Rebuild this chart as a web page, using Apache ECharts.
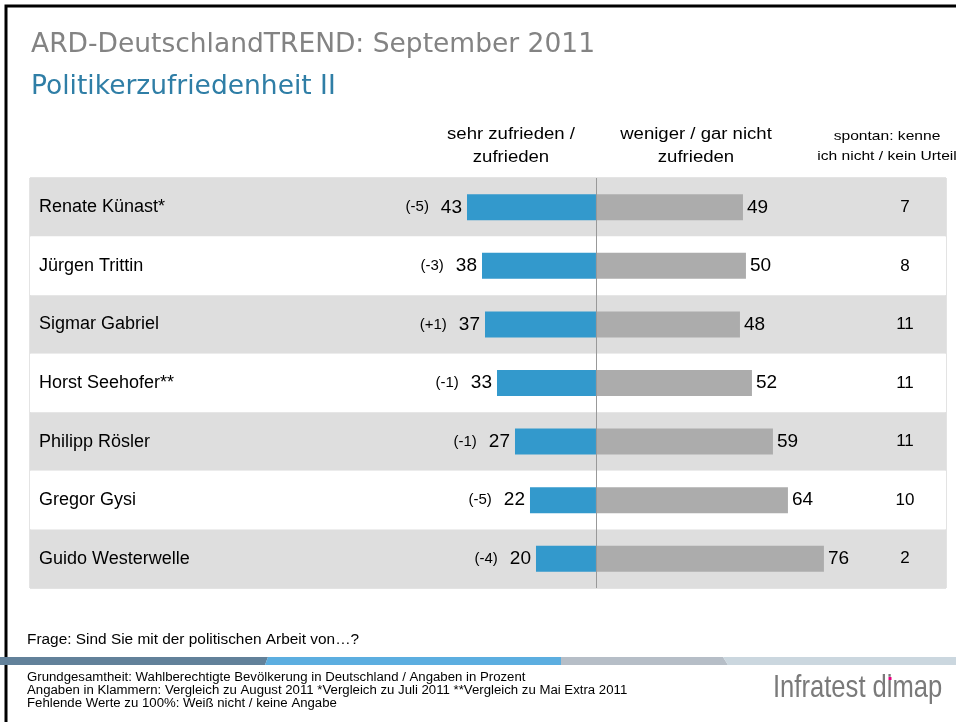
<!DOCTYPE html>
<html>
<head>
<meta charset="utf-8">
<script src="https://cdn.jsdelivr.net/npm/echarts@6/dist/echarts.min.js"></script>
<style>
html, body { margin: 0; padding: 0; background: #fff; }
#chart { width: 956px; height: 722px; }
</style>
</head>
<body>
<div id="chart"></div>
<script>
var names = ['Renate Künast*', 'Jürgen Trittin', 'Sigmar Gabriel', 'Horst Seehofer**', 'Philipp Rösler', 'Gregor Gysi', 'Guido Westerwelle'];
var satisfied = [43, 38, 37, 33, 27, 22, 20];
var change = ['-5', '-3', '+1', '-1', '-1', '-5', '-4'];
var dissatisfied = [49, 50, 48, 52, 59, 64, 76];
var unknown = [7, 8, 11, 11, 11, 10, 2];

var FONT = '"Liberation Sans", Arial, sans-serif';

var myChart = echarts.init(document.getElementById('chart'));

// header text, slightly stretched like in the slide
function head(txt, x, y, size, lh, sx) {
    return {
        type: 'text', x: x, y: y, scaleX: sx, silent: true,
        style: { text: txt, font: size + 'px ' + FONT, lineHeight: lh, fill: '#000', align: 'center', verticalAlign: 'top' }
    };
}

var option = {
    animation: false,
    backgroundColor: '#fff',
    textStyle: { fontFamily: FONT },
    title: [{
        text: 'ARD-DeutschlandTREND: September 2011',
        left: 26, top: 27,
        textStyle: { fontFamily: '"DejaVu Sans", sans-serif', fontWeight: 'normal', fontSize: 26.5, color: '#838383' }
    }, {
        text: 'Politikerzufriedenheit II',
        left: 26, top: 69,
        textStyle: { fontFamily: '"DejaVu Sans", sans-serif', fontWeight: 'normal', fontSize: 26.5, color: '#2f7ea6' }
    }],
    grid: {
        left: 30, right: 10, top: 178, bottom: 134,
        show: true, borderColor: '#c8c8c8', borderWidth: 1,
        backgroundColor: 'transparent'
    },
    xAxis: {
        type: 'value', min: -188.7, max: 116.7,
        show: false
    },
    yAxis: [{
        type: 'category',
        data: names,
        inverse: true,
        axisLine: { show: false, onZero: false },
        axisTick: { show: false },
        splitLine: { show: false },
        splitArea: { show: true, areaStyle: { color: ['#dedede', '#ffffff'] } },
        axisLabel: { inside: true, margin: 9, fontSize: 18, color: '#000' }
    }, {
        type: 'category',
        data: names,
        inverse: true,
        position: 'right',
        axisLine: { show: false, onZero: false },
        axisTick: { show: false },
        splitLine: { show: false },
        axisLabel: {
            inside: true, margin: 41, align: 'center', fontSize: 17, color: '#000',
            formatter: function (v, i) { return String(unknown[i]); }
        }
    }],
    series: [{
        name: 'sehr zufrieden / zufrieden',
        type: 'bar',
        barWidth: 26,
        barGap: '-100%',
        itemStyle: { color: '#3399cc' },
        data: satisfied.map(function (v) { return -v; }),
        label: {
            show: true,
            position: 'left',
            distance: 5,
            formatter: function (p) {
                return '{c|(' + change[p.dataIndex] + ')}{v|' + satisfied[p.dataIndex] + '}';
            },
            rich: {
                c: { fontSize: 15, color: '#000', padding: [0, 12, 0, 0] },
                v: { fontSize: 19, color: '#000' }
            }
        }
    }, {
        name: 'weniger / gar nicht zufrieden',
        type: 'bar',
        barWidth: 26,
        barGap: '-100%',
        itemStyle: { color: '#acacac' },
        data: dissatisfied,
        label: { show: true, position: 'right', distance: 4, fontSize: 19, color: '#000' },
        markLine: {
            silent: true,
            symbol: 'none',
            label: { show: false },
            lineStyle: { color: '#999', width: 1, type: 'solid' },
            data: [{ xAxis: 0 }]
        }
    }],
    graphic: [{
        type: 'rect',
        shape: { x: 6, y: 6, width: 970, height: 740 },
        style: { fill: 'none', stroke: '#000', lineWidth: 3 },
        silent: true
    },
    head('sehr zufrieden /\nzufrieden', 511, 123, 16, 23, 1.16),
    head('weniger / gar nicht\nzufrieden', 696, 123, 16, 23, 1.16),
    head('spontan: kenne\nich nicht / kein Urteil', 887, 126, 13, 20, 1.2),
    {
        type: 'text', x: 27, y: 633, scaleX: 1.1,
        style: { text: 'Frage: Sind Sie mit der politischen Arbeit von…?', font: '14px ' + FONT, fill: '#000' }
    }, {
        type: 'polygon',
        shape: { points: [[0, 657], [268, 657], [265, 665], [0, 665]] },
        style: { fill: '#62819a' }
    }, {
        type: 'polygon',
        shape: { points: [[268, 657], [561, 657], [561, 665], [265, 665]] },
        style: { fill: '#5caee0' }
    }, {
        type: 'polygon',
        shape: { points: [[561, 657], [723, 657], [728, 665], [561, 665]] },
        style: { fill: '#b6bec7' }
    }, {
        type: 'polygon',
        shape: { points: [[723, 657], [956, 657], [956, 665], [728, 665]] },
        style: { fill: '#cbd7df' }
    }, {
        type: 'text', x: 27, y: 671, scaleX: 1.1,
        style: {
            text: 'Grundgesamtheit: Wahlberechtigte Bevölkerung in Deutschland / Angaben in Prozent\nAngaben in Klammern: Vergleich zu August 2011 *Vergleich zu Juli 2011 **Vergleich zu Mai Extra 2011\nFehlende Werte zu 100%: Weiß nicht / keine Angabe',
            font: '12px ' + FONT, lineHeight: 13, fill: '#000'
        }
    }, {
        type: 'text', x: 773, y: 672, scaleX: 0.8,
        style: { text: 'Infratest dimap', font: '32px ' + FONT, fill: '#7a7a7a' }
    }, {
        type: 'rect',
        shape: { x: 888.5, y: 677, width: 3, height: 3 },
        style: { fill: '#e6007e' }
    }]
};

myChart.setOption(option);
</script>
</body>
</html>
